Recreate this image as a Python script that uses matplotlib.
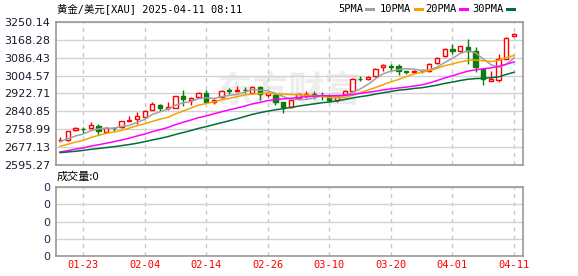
import matplotlib

matplotlib.use("Agg")
import matplotlib.pyplot as plt
from matplotlib.lines import Line2D

plt.rcParams["font.family"] = ["DejaVu Sans", "Noto Sans CJK SC"]

# daily candles, 01-20 .. 04-11
dates = [
    "01-20", "01-21", "01-22", "01-23", "01-24", "01-27", "01-28", "01-29", "01-30", "01-31",
    "02-03", "02-04", "02-05", "02-06", "02-07", "02-10", "02-11", "02-12", "02-13", "02-14",
    "02-17", "02-18", "02-19", "02-20", "02-21", "02-24", "02-25", "02-26", "02-27", "02-28",
    "03-03", "03-04", "03-05", "03-06", "03-07", "03-10", "03-11", "03-12", "03-13", "03-14",
    "03-17", "03-18", "03-19", "03-20", "03-21", "03-24", "03-25", "03-26", "03-27", "03-28",
    "03-31", "04-01", "04-02", "04-03", "04-04", "04-07", "04-08", "04-09", "04-10", "04-11",
]
opens = [
    2709, 2710, 2754, 2760, 2763, 2773, 2748, 2766, 2768, 2797,
    2808, 2815, 2848, 2868, 2857, 2857, 2911, 2891, 2907, 2927,
    2883, 2906, 2938, 2933, 2940, 2924, 2954, 2914, 2914, 2883,
    2861, 2903, 2914, 2921, 2915, 2909, 2891, 2921, 2933, 2990,
    2989, 3005, 3044, 3048, 3047, 3024, 3019, 3028, 3024, 3062,
    3093, 3128, 3117, 3135, 3117, 3033, 2981, 2983, 3082, 3187,
]
highs = [
    2722, 2753, 2771, 2768, 2791, 2782, 2770, 2768, 2798, 2821,
    2836, 2845, 2883, 2876, 2886, 2911, 2939, 2906, 2929, 2939,
    2898, 2941, 2947, 2955, 2952, 2957, 2959, 2930, 2924, 2885,
    2896, 2925, 2933, 2932, 2929, 2921, 2914, 2940, 2993, 3004,
    3004, 3038, 3059, 3059, 3059, 3028, 3032, 3036, 3062, 3088,
    3131, 3150, 3142, 3170, 3135, 3033, 3024, 3105, 3180, 3198,
]
lows = [
    2700, 2707, 2751, 2742, 2760, 2733, 2745, 2752, 2765, 2796,
    2785, 2812, 2845, 2841, 2848, 2855, 2864, 2871, 2903, 2878,
    2876, 2904, 2921, 2930, 2924, 2921, 2891, 2906, 2871, 2834,
    2858, 2895, 2903, 2898, 2891, 2883, 2886, 2918, 2930, 2982,
    2984, 3000, 3028, 3028, 3006, 3010, 3015, 3016, 3020, 3058,
    3090, 3105, 3113, 3059, 3021, 2963, 2980, 2975, 3080, 3186,
]
closes = [
    2711, 2750, 2763, 2758, 2779, 2753, 2767, 2764, 2797, 2800,
    2820, 2841, 2876, 2857, 2861, 2909, 2898, 2903, 2924, 2883,
    2894, 2936, 2935, 2941, 2937, 2954, 2921, 2924, 2883, 2861,
    2891, 2921, 2921, 2914, 2913, 2895, 2909, 2936, 2989, 2988,
    3000, 3035, 3054, 3046, 3024, 3019, 3028, 3024, 3059, 3086,
    3128, 3117, 3140, 3117, 3044, 2987, 2987, 3082, 3178, 3193,
]

ma5 = [
    2702, 2715, 2728, 2737, 2752, 2761, 2764, 2764, 2772, 2776,
    2790, 2804, 2827, 2839, 2851, 2869, 2880, 2886, 2899, 2903,
    2900, 2908, 2914, 2918, 2929, 2941, 2938, 2935, 2924, 2909,
    2896, 2896, 2895, 2902, 2912, 2913, 2910, 2913, 2928, 2943,
    2964, 2990, 3013, 3025, 3032, 3036, 3034, 3028, 3031, 3043,
    3065, 3083, 3106, 3118, 3109, 3081, 3055, 3043, 3056, 3085,
]
ma10 = [
    2681, 2690, 2700, 2708, 2721, 2731, 2740, 2746, 2754, 2764,
    2775, 2784, 2795, 2805, 2813, 2829, 2842, 2856, 2869, 2877,
    2884, 2894, 2900, 2908, 2916, 2920, 2923, 2924, 2921, 2919,
    2918, 2917, 2915, 2913, 2910, 2904, 2903, 2904, 2915, 2927,
    2938, 2950, 2963, 2976, 2987, 3000, 3012, 3020, 3028, 3037,
    3050, 3058, 3067, 3074, 3076, 3073, 3069, 3074, 3087, 3097,
]
ma20 = [
    2655, 2661, 2668, 2673, 2682, 2688, 2695, 2702, 2710, 2718,
    2728, 2737, 2748, 2757, 2767, 2780, 2791, 2801, 2812, 2820,
    2830, 2839, 2848, 2856, 2865, 2875, 2882, 2890, 2895, 2898,
    2901, 2905, 2908, 2910, 2913, 2912, 2913, 2914, 2918, 2923,
    2928, 2933, 2939, 2944, 2948, 2952, 2957, 2962, 2971, 2982,
    2994, 3004, 3015, 3025, 3031, 3036, 3040, 3047, 3057, 3067,
]
ma30 = [
    2652, 2655, 2658, 2662, 2667, 2671, 2675, 2679, 2684, 2689,
    2695, 2702, 2710, 2717, 2725, 2735, 2744, 2753, 2763, 2771,
    2780, 2789, 2798, 2807, 2817, 2827, 2835, 2842, 2848, 2853,
    2859, 2865, 2870, 2875, 2880, 2884, 2889, 2895, 2902, 2908,
    2913, 2920, 2926, 2932, 2938, 2941, 2946, 2949, 2955, 2961,
    2969, 2975, 2982, 2988, 2991, 2992, 2995, 2999, 3010, 3020,
]

y_ticks = [2595.27, 2677.13, 2758.99, 2840.85, 2922.71, 3004.57, 3086.43, 3168.28, 3250.14]
y_labels = ["2595.27", "2677.13", "2758.99", "2840.85", "2922.71",
            "3004.57", "3086.43", "3168.28", "3250.14"]
x_tick_labels = ["01-23", "02-04", "02-14", "02-26", "03-10", "03-20", "04-01", "04-11"]

ma_names = ["5PMA", "10PMA", "20PMA", "30PMA"]
ma_colors = ["#a0a0a0", "#f5a300", "#ff00ff", "#006f35"]

RED = "#ff0000"
GREEN = "#0a7d0a"
GRID = "#d2d2d2"
SPINE = "#999999"

W, H = 578, 276
fig = plt.figure(figsize=(W / 100, H / 100), dpi=100)


def box(left, top, right, bottom):
    return [left / W, 1 - bottom / H, (right - left) / W, (bottom - top) / H]


ax = fig.add_axes(box(56, 22, 523, 165))
axv = fig.add_axes(box(56, 187, 523, 256))

xs = list(range(len(dates)))
xlim = (-0.52, 60.17)
x_ticks = [dates.index(d) for d in x_tick_labels]

# candles
for i in xs:
    o, h, l, c = opens[i], highs[i], lows[i], closes[i]
    up = c >= o
    col = RED if up else GREEN
    ax.vlines(i, l, h, color=col, lw=1, zorder=2)
    body = max(abs(c - o), 0.6)
    ax.bar(i, body, bottom=min(o, c), width=0.55,
           facecolor="white" if up else col, edgecolor=col, lw=1, zorder=3)

for vals, col in zip([ma5, ma10, ma20, ma30], ma_colors):
    ax.plot(xs, vals, color=col, lw=1.1, zorder=4)

ax.text(0.5, 0.52, "东方财富", transform=ax.transAxes, ha="center", va="center",
        fontsize=26, fontweight="bold", color="#ededed", zorder=0,
        family=["Noto Sans CJK SC"])

for a in (ax, axv):
    a.set_xlim(*xlim)
    a.set_xticks(x_ticks)
    a.grid(axis="x", color="#c8c8c8", ls=(0, (3, 3)), lw=1)
    a.grid(axis="y", color=GRID, ls="-", lw=1)
    a.set_axisbelow(True)
    a.tick_params(length=0, labelsize=8, pad=4, labelcolor="#1a1a2e")
    for s in a.spines.values():
        s.set_color(SPINE)
        s.set_linewidth(1.2)

ax.set_ylim(y_ticks[0], y_ticks[-1])
ax.set_yticks(y_ticks)
ax.set_yticklabels(y_labels)
ax.set_xticklabels([])

axv.set_ylim(0, 1)
axv.set_yticks([0, 0.25, 0.5, 0.75, 1])
axv.set_yticklabels(["0"] * 5, color="#1c2a5a")
axv.set_xticklabels(x_tick_labels, color=RED, family="DejaVu Sans Mono", fontsize=7.5)
axv.tick_params(axis="x", pad=3)

mono = ["DejaVu Sans Mono", "Noto Sans CJK SC"]
fig.text(57 / W, 1 - 9 / H, "黄金/美元[XAU] 2025-04-11 08:11", ha="left", va="center",
         fontsize=7.5, family=mono, color="black")
fig.text(57 / W, 1 - 177 / H, "成交量:0", ha="left", va="center",
         fontsize=8, family=["Noto Sans CJK SC"], color="black")

# legend row
lx = [338, 380, 425, 472]
for x0, name, col in zip(lx, ma_names, ma_colors):
    t = fig.text(x0 / W, 1 - 9 / H, name, ha="left", va="center", fontsize=7.5,
                 family="DejaVu Sans Mono", color="black")
    x1 = x0 + 6.3 * len(name) + 3
    fig.add_artist(Line2D([x1 / W, (x1 + 7) / W], [1 - 9 / H, 1 - 9 / H],
                          color=col, lw=2.2, transform=fig.transFigure))

fig.savefig("out.png", dpi=100)
